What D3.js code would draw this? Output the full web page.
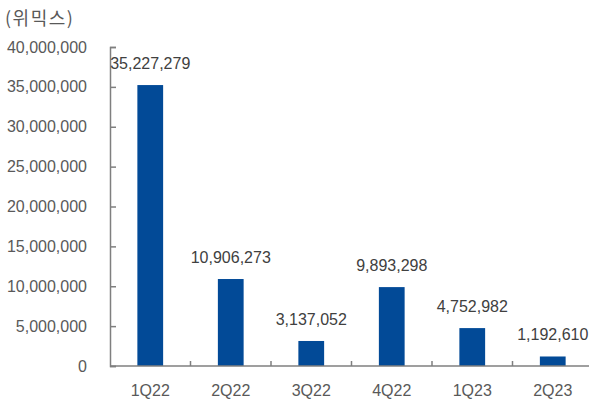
<!DOCTYPE html>
<html>
<head>
<meta charset="utf-8">
<script src="https://cdn.jsdelivr.net/npm/d3@7"></script>
<style>
  body { margin: 0; background: #fff; }
  svg text { font-family: "Liberation Sans", Arial, sans-serif; }
</style>
</head>
<body>
<svg id="chart"></svg>
<script>
// dữ liệu
const quarters = ["1Q22", "2Q22", "3Q22", "4Q22", "1Q23", "2Q23"];
const values = [35227279, 10906273, 3137052, 9893298, 4752982, 1192610];
const yTicks = [0, 5000000, 10000000, 15000000, 20000000, 25000000, 30000000, 35000000, 40000000];
const unitLabel = "(위믹스)";

const width = 589, height = 403;
const margin = { top: 47, right: -4, bottom: 37, left: 110 };

const svg = d3.select("#chart").attr("width", width).attr("height", height);

const x = d3.scaleBand().domain(quarters)
    .range([margin.left, width - margin.right]).paddingInner(0.68).paddingOuter(0.34);
const y = d3.scaleLinear().domain([0, 40000000]).range([height - margin.bottom, margin.top]);

const fmt = d3.format(",");
const textColor = "#595959";
const axisColor = "#7f7f7f";

// trục y
const yAxis = svg.append("g")
    .attr("transform", `translate(${margin.left},0)`)
    .call(d3.axisRight(y).tickValues(yTicks).tickSize(6).tickFormat(""));
yAxis.select(".domain").attr("stroke", axisColor).attr("stroke-width", 1.5);
yAxis.selectAll(".tick line").attr("stroke", axisColor).attr("stroke-width", 1.5);

svg.append("g").selectAll("text")
    .data(yTicks)
    .join("text")
    .attr("x", 87)
    .attr("y", d => y(d) + 5.5)
    .attr("text-anchor", "end")
    .attr("fill", textColor)
    .style("font-size", "16px")
    .text(d => fmt(d));

// cột
svg.append("g").selectAll("rect")
    .data(values)
    .join("rect")
    .attr("x", (d, i) => x(quarters[i]))
    .attr("y", d => y(d))
    .attr("width", x.bandwidth())
    .attr("height", d => y(0) - y(d))
    .attr("fill", "#024a97");

// trục x
const step = x.step();
const bounds = quarters.slice(1).map(q => x(q) - step * 0.34);
const xg = svg.append("g");
xg.append("line")
    .attr("x1", margin.left).attr("x2", width)
    .attr("y1", y(0)).attr("y2", y(0))
    .attr("stroke", axisColor).attr("stroke-width", 1.5);
xg.selectAll(".tk")
    .data(bounds)
    .join("line")
    .attr("x1", d => d).attr("x2", d => d)
    .attr("y1", y(0)).attr("y2", y(0) - 5)
    .attr("stroke", axisColor).attr("stroke-width", 1.5);

svg.append("g").selectAll("text")
    .data(quarters)
    .join("text")
    .attr("x", d => x(d) + x.bandwidth() / 2)
    .attr("y", 396)
    .attr("text-anchor", "middle")
    .attr("fill", textColor)
    .style("font-size", "16px")
    .text(d => d);

// nhãn giá trị
svg.append("g").selectAll("text")
    .data(values)
    .join("text")
    .attr("x", (d, i) => x(quarters[i]) + x.bandwidth() / 2)
    .attr("y", d => y(d) - 16)
    .attr("text-anchor", "middle")
    .attr("fill", "#404040")
    .style("font-size", "16px")
    .text(d => fmt(d));

// đơn vị
svg.append("text")
    .attr("x", 5).attr("y", 25)
    .attr("fill", textColor)
    .style("font-size", "18px")
    .style("letter-spacing", "1.5px")
    .style("font-family", "'Noto Sans CJK KR', sans-serif")
    .text(unitLabel);
</script>
</body>
</html>
